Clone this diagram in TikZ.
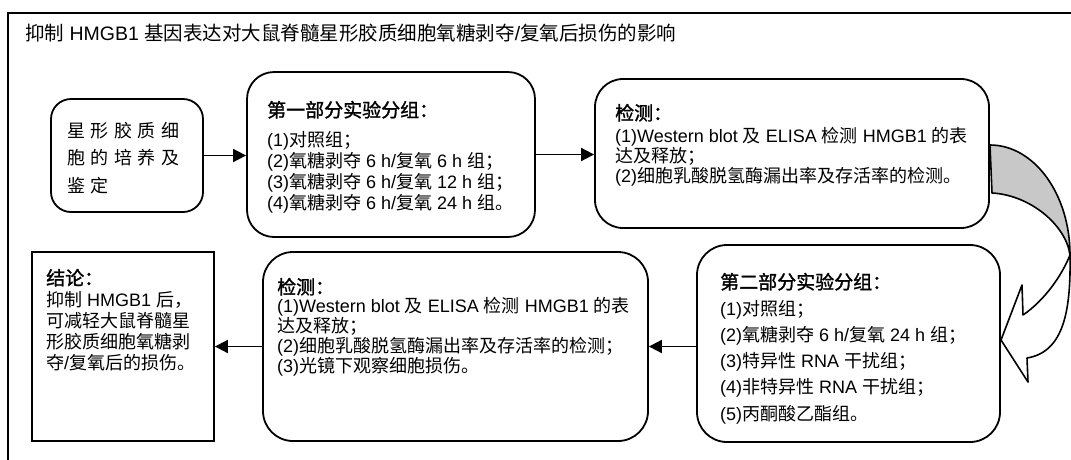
\documentclass[tikz,border=0pt]{standalone}
\usepackage{fontspec}
\setmainfont{Liberation Sans}
\newfontfamily\cjkfont[AutoFakeBold=1.4]{Noto Sans CJK SC}
\usetikzlibrary{arrows.meta}
\XeTeXinterchartokenstate=1
\newXeTeXintercharclass\cjkclass
\newcount\cjkcnt
\def\setcjkrange#1#2{\cjkcnt=#1\relax\loop\XeTeXcharclass\cjkcnt=\cjkclass\relax\ifnum\cjkcnt<#2\relax\advance\cjkcnt by 1\relax\repeat}
\setcjkrange{"3000}{"303F}
\setcjkrange{"4E00}{"9FFF}
\setcjkrange{"FF00}{"FFEF}
\XeTeXinterchartoks 0 \cjkclass = {\cjkfont}
\XeTeXinterchartoks 4095 \cjkclass = {\cjkfont}
\XeTeXinterchartoks \cjkclass 0 = {\rmfamily}
\XeTeXinterchartoks \cjkclass 4095 = {\rmfamily}
\definecolor{cg}{RGB}{200,200,200}
\def\lsp{\hspace{5.6pt}}
\tikzset{
  frame/.style={line width=1.3pt},
  rbox/.style={draw, line width=1.8pt, inner sep=0pt},
  arr/.style={line width=1.8pt, -{Triangle[length=13pt,width=13pt]}},
  txt/.style={anchor=base west, inner sep=0pt, font=\fontsize{18}{21}\selectfont},
  hd/.style={anchor=base west, inner sep=0pt, font=\fontsize{19}{22}\selectfont\bfseries},
  bent/.style={line width=1.6pt, line join=round}
}
\begin{document}
\begin{tikzpicture}[x=1pt,y=-1pt]
\useasboundingbox (0,0) rectangle (1071,459);
\fill[white] (0,0) rectangle (1071,459);
\draw[frame] (1080,13) -- (8,13) -- (8,470);
\node[anchor=base west, inner sep=0pt, font=\fontsize{19.5}{22}\selectfont] (title) at (25,40.5) {抑制 HMGB1 基因表达对大鼠脊髓星形胶质细胞氧糖剥夺/复氧后损伤的影响};

% boxes
\node[rbox, rounded corners=20pt, minimum width=152pt, minimum height=113pt] (b1) at (127,155.5) {};
\node[rbox, rounded corners=27pt, minimum width=288pt, minimum height=165pt] (b2) at (391,154.5) {};
\node[rbox, rounded corners=28pt, minimum width=394pt, minimum height=149pt] (b3) at (792,153.5) {};
\node[rbox, rounded corners=30pt, minimum width=303pt, minimum height=197pt] (g2) at (848.5,343.5) {};
\node[rbox, rounded corners=30pt, minimum width=385pt, minimum height=189pt] (d2) at (455.5,346.5) {};
\node[rbox, minimum width=182pt, minimum height=189pt] (con) at (123,346.5) {};

% texts
\node[txt] (t1a) at (67,137) {星\lsp 形\lsp 胶\lsp 质\lsp 细};
\node[txt] (t1b) at (67,164) {胞\lsp 的\lsp 培\lsp 养\lsp 及};
\node[txt] (t1c) at (67,192) {鉴\lsp 定};

\node[hd] (h2) at (267,117) {第一部分实验分组：};
\foreach \t [count=\i] in {{(1)对照组；},{(2)氧糖剥夺 6 h/复氧 6 h 组；},{(3)氧糖剥夺 6 h/复氧 12 h 组；},{(4)氧糖剥夺 6 h/复氧 24 h 组。}}
  \node[txt] (g1-\i) at (267,{146+21*(\i-1)}) {\t};

\node[hd] (h3) at (615,120) {检测：};
\foreach \t [count=\i] in {{(1)Western blot 及 ELISA 检测 HMGB1 的表},{达及释放；},{(2)细胞乳酸脱氢酶漏出率及存活率的检测。}}
  \node[txt] (d1-\i) at (615,{142+20*(\i-1)}) {\t};

\node[hd] (h4) at (720,289) {第二部分实验分组：};
\foreach \t [count=\i] in {{(1)对照组；},{(2)氧糖剥夺 6 h/复氧 24 h 组；},{(3)特异性 RNA 干扰组；},{(4)非特异性 RNA 干扰组；},{(5)丙酮酸乙酯组。}}
  \node[txt] (g2-\i) at (720,{315+26.25*(\i-1)}) {\t};

\node[hd] (h5) at (277,294) {检测：};
\foreach \t [count=\i] in {{(1)Western blot 及 ELISA 检测 HMGB1 的表},{达及释放；},{(2)细胞乳酸脱氢酶漏出率及存活率的检测；},{(3)光镜下观察细胞损伤。}}
  \node[txt] (d2-\i) at (277,{312+20*(\i-1)}) {\t};

\node[hd] (h6) at (46,285) {结论：};
\foreach \t [count=\i] in {{抑制 HMGB1 后，},{可减轻大鼠脊髓星},{形胶质细胞氧糖剥},{夺/复氧后的损伤。}}
  \node[txt] (c-\i) at (46,{306+21.3*(\i-1)}) {\t};

% connectors
\draw[arr] (b1.east) -- (b1.east -| b2.west);
\draw[arr] (b2.east) -- (b2.east -| b3.west);
\draw[arr] (g2.west |- d2.east) -- (d2.east);
\draw[arr] (d2.west) -- (d2.west -| con.east);

% curved block arrow from b3 to g2
\filldraw[bent, fill=cg] (990,145) .. controls (1034.2,145) and (1070,194.2) .. (1070,255)
  .. controls (1066,225) and (1030,195) .. (992,193) -- cycle;
\filldraw[bent, fill=white] (1070,255) .. controls (1071,310) and (1064,352) .. (1027,358)
  -- (1028,382) -- (1001,340) -- (1022,285) -- (1023,315)
  .. controls (1045,300) and (1062,275) .. (1070,255) -- cycle;
\end{tikzpicture}
\end{document}
